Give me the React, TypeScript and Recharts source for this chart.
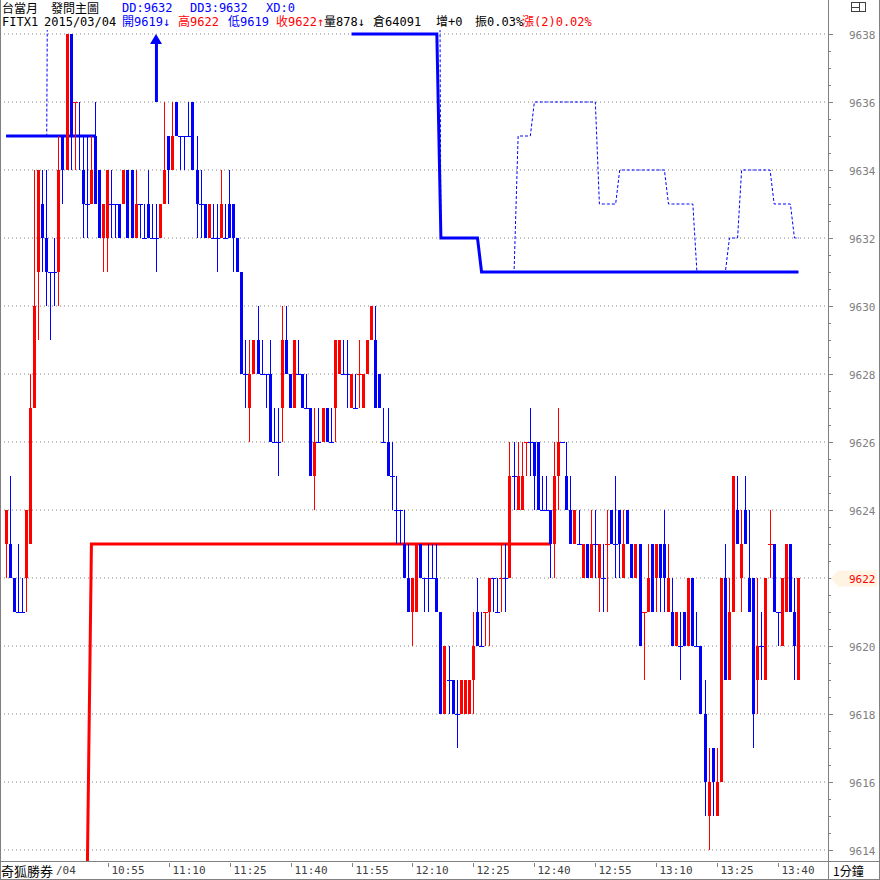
import React from 'react';
import { ComposedChart, XAxis, YAxis, Bar, Line, ReferenceLine, ReferenceDot } from 'recharts';

// ---- data (1-minute bars, 10:30 .. 13:45) ----
const opens = [
  9623,9623,9622,9621,9621,9622,9623,9627,9631,9633,
  9632,9631,9631,9631,9635,9634,9638,9636,9635,9634,
  9633,9633,9635,9634,9632,9632,9633,9633,9633,9633,
  9634,9634,9632,9633,9632,9633,9632,9632,9632,9633,
  9635,9634,9636,9635,9635,9635,9636,9634,9633,9633,
  9632,9632,9632,9632,9632,9633,9633,9632,9631,9628,
  9627,9628,9629,9628,9628,9628,9626,9626,9627,9629,
  9628,9627,9628,9628,9627,9627,9625,9626,9626,9627,
  9626,9627,9628,9628,9628,9627,9627,9628,9627,9628,
  9629,9629,9628,9626,9626,9625,9624,9624,9623,9622,
  9621,9621,9623,9622,9622,9622,9622,9621,9618,9619,
  9619,9618,9618,9618,9618,9619,9621,9620,9621,9621,
  9622,9621,9622,9622,9622,9625,9624,9624,9626,9626,
  9626,9626,9624,9624,9624,9623,9625,9626,9625,9624,
  9623,9623,9622,9623,9622,9623,9622,9622,9623,9624,
  9623,9624,9622,9624,9623,9622,9623,9621,9621,9623,
  9622,9623,9623,9621,9621,9620,9620,9621,9620,9622,
  9620,9620,9618,9615,9617,9615,9616,9622,9619,9621,
  9624,9622,9624,9622,9622,9619,9620,9619,9623,9623,
  9621,9620,9621,9623,9621,9619,
];
const highs = [
  9624,9625,9622,9623,9622,9624,9628,9634,9634,9634,
  9634,9631,9632,9635,9635,9638,9638,9636,9636,9635,
  9635,9635,9636,9634,9633,9634,9634,9633,9633,9634,
  9634,9634,9634,9633,9633,9634,9633,9633,9633,9636,
  9635,9636,9636,9635,9635,9636,9636,9635,9634,9633,
  9633,9633,9633,9634,9633,9634,9633,9632,9631,9629,
  9629,9629,9630,9629,9628,9629,9627,9627,9630,9630,
  9628,9629,9629,9628,9628,9627,9627,9627,9627,9627,
  9627,9629,9629,9629,9629,9628,9628,9629,9628,9629,
  9630,9630,9628,9627,9627,9626,9625,9624,9624,9623,
  9622,9623,9623,9622,9623,9623,9623,9621,9620,9620,
  9619,9619,9619,9619,9619,9621,9622,9621,9621,9622,
  9622,9622,9623,9623,9626,9626,9626,9626,9626,9627,
  9626,9626,9625,9625,9624,9626,9627,9626,9626,9625,
  9624,9624,9623,9623,9624,9624,9623,9623,9624,9624,
  9625,9624,9624,9624,9623,9623,9623,9621,9623,9623,
  9623,9623,9624,9623,9622,9621,9621,9621,9622,9622,
  9621,9620,9619,9617,9617,9617,9622,9623,9622,9625,
  9625,9624,9625,9624,9622,9622,9621,9622,9624,9623,
  9621,9622,9623,9623,9622,9622,
];
const lows = [
  9622,9622,9621,9621,9621,9621,9623,9627,9629,9631,
  9630,9629,9630,9630,9633,9634,9634,9634,9634,9632,
  9632,9633,9633,9632,9631,9631,9632,9632,9632,9633,
  9632,9632,9632,9632,9632,9632,9632,9631,9632,9633,
  9633,9634,9635,9634,9634,9635,9634,9632,9632,9632,
  9632,9632,9631,9632,9632,9632,9631,9631,9628,9627,
  9626,9628,9628,9628,9627,9626,9626,9625,9626,9628,
  9627,9627,9628,9627,9627,9625,9624,9626,9626,9626,
  9626,9626,9628,9628,9627,9627,9627,9627,9627,9628,
  9629,9627,9627,9626,9625,9624,9623,9623,9622,9621,
  9620,9621,9622,9621,9621,9622,9621,9618,9618,9618,
  9618,9617,9618,9618,9618,9618,9620,9620,9620,9620,
  9621,9621,9621,9621,9622,9624,9624,9624,9625,9625,
  9624,9624,9624,9624,9622,9622,9624,9626,9624,9623,
  9623,9623,9622,9622,9622,9622,9621,9621,9621,9623,
  9622,9622,9622,9623,9622,9622,9620,9619,9621,9621,
  9621,9621,9621,9621,9620,9620,9619,9620,9620,9620,
  9620,9618,9615,9614,9615,9615,9616,9619,9619,9621,
  9623,9621,9623,9621,9617,9618,9619,9619,9622,9621,
  9620,9620,9621,9621,9619,9619,
];
const closes = [
  9624,9622,9621,9621,9621,9624,9627,9630,9634,9632,
  9631,9631,9631,9634,9634,9638,9635,9636,9635,9633,
  9633,9634,9633,9632,9633,9634,9633,9633,9632,9634,
  9632,9632,9633,9633,9632,9632,9632,9632,9633,9634,
  9634,9635,9635,9635,9635,9635,9634,9633,9633,9632,
  9633,9632,9632,9633,9632,9632,9632,9631,9628,9628,
  9628,9629,9628,9628,9628,9626,9626,9626,9629,9628,
  9627,9629,9628,9627,9627,9625,9626,9626,9627,9626,
  9626,9629,9629,9628,9628,9628,9627,9628,9628,9629,
  9630,9627,9627,9626,9625,9625,9624,9624,9622,9621,
  9622,9623,9622,9622,9622,9622,9621,9618,9620,9619,
  9618,9618,9619,9619,9619,9620,9620,9620,9621,9622,
  9622,9621,9622,9622,9625,9625,9625,9625,9626,9626,
  9625,9624,9624,9624,9623,9625,9626,9626,9624,9623,
  9624,9623,9623,9622,9623,9623,9623,9622,9623,9623,
  9623,9623,9623,9623,9622,9623,9620,9621,9622,9621,
  9623,9622,9622,9622,9620,9621,9620,9620,9622,9620,
  9620,9618,9616,9616,9616,9616,9622,9619,9621,9625,
  9623,9623,9623,9621,9618,9620,9620,9622,9623,9621,
  9621,9622,9623,9621,9620,9622,
];

// step lines as [value, number of bars]; null = not drawn, 9660 = above the visible range
const ddRuns = [[9635, 23], [null, 62], [9638, 22], [9632, 10], [9631, 79]];
const dd3Runs = [
  [9635, 11], [9660, 96], [9632, 10], [9631, 9], [9635, 4], [9636, 16], [9633, 5],
  [9634, 12], [9633, 7], [9631, 8], [9632, 3], [9634, 8], [9633, 5], [9632, 2],
];
const redRuns = [[null, 20], [9613.5, 1], [9623, 114], [null, 61]];

const timeTicks = ['10:55', '11:10', '11:25', '11:40', '11:55', '12:10', '12:25', '12:40', '12:55', '13:10', '13:25', '13:40'];
const priceTicks = [9614, 9616, 9618, 9620, 9622, 9624, 9626, 9628, 9630, 9632, 9634, 9636, 9638];
const arrowTime = '11:07';
const arrowFrom = 9636;
const arrowTo = 9638;

const startMinute = 10 * 60 + 30;
const padFront = 1;
const padBack = 7;
const Y_MIN = 9638 - 827 / 34;
const Y_MAX = 9638 + 4 / 34;

const RED = '#FF0000';
const BLUE = '#0000FF';
const GRAY = '#808080';
const MONO = '"DejaVu Sans Mono", "Noto Sans CJK TC", monospace';
const CJK = '"Noto Sans CJK TC", "Noto Sans CJK SC", sans-serif';

const expand = (runs: any[]) => {
  const out: any[] = [];
  runs.forEach(([v, n]) => { for (let k = 0; k < n; k++) out.push(v); });
  return out;
};
const ddVals = expand(ddRuns);
const dd3Vals = expand(dd3Runs);
const redVals = expand(redRuns);

const fmt = (m: number) => `${Math.floor(m / 60)}:${String(m % 60).padStart(2, '0')}`;

const rows: any[] = [];
for (let k = 0; k < padFront; k++) rows.push({ t: `pre${k}` });
opens.forEach((o, i) => {
  const c = closes[i];
  const prev = i > 0 ? closes[i - 1] : c;
  const col = c > o ? RED : c < o ? BLUE : c > prev ? RED : BLUE;
  rows.push({
    t: fmt(startMinute + i),
    o, h: highs[i], l: lows[i], c, col,
    range: [lows[i], highs[i]],
    dd: ddVals[i], dd3: dd3Vals[i], red: redVals[i],
  });
});
for (let k = 0; k < padBack; k++) rows.push({ t: `post${k}` });

const lastClose = closes[closes.length - 1];
const minorStep = 0.5;
const yTicks: number[] = [];
priceTicks.forEach((v, idx) => {
  yTicks.push(v);
  if (idx < priceTicks.length - 1) {
    for (let s = minorStep; s < 2; s += minorStep) yTicks.push(v + s);
  }
});

const Candle = (props: any) => {
  const { x, y, width, height, payload } = props;
  if (!payload || payload.o == null) return null;
  const { o, h, l, c } = payload;
  const col = payload.col || BLUE;
  let top = y;
  let hh = height || 0;
  if (hh < 0) { top = y + hh; hh = -hh; }
  const cx = Math.floor(x + width / 2);
  const span = h - l;
  const k = span > 0 ? hh / span : 0;
  const yOf = (v: number) => Math.round(top + (h - v) * k);
  const yH = yOf(h);
  const yL = yOf(l);
  const bTop = yOf(Math.max(o, c));
  const bBot = yOf(Math.min(o, c));
  return (
    <g shapeRendering="crispEdges">
      {yL > yH && <rect x={cx} y={yH} width={1} height={yL - yH} fill={col} />}
      {o !== c
        ? <rect x={cx - 1} y={bTop} width={3} height={Math.max(1, bBot - bTop)} fill={col} />
        : <rect x={cx - 2} y={bTop} width={5} height={1} fill={col} />}
    </g>
  );
};

const PriceTick = (props: any) => {
  const { x, y, payload } = props;
  const v = payload.value;
  const major = Math.abs(v - Math.round(v / 2) * 2) < 1e-6;
  const yy = Math.round(y) + 0.5;
  const isLast = major && Math.abs(v - lastClose) < 1e-6;
  return (
    <g>
      <line x1={x} x2={x + (major ? 4 : 2)} y1={yy} y2={yy} stroke={GRAY} strokeWidth={1} />
      {isLast && (
        <path d={`M${x + 2},${yy} L${x + 9},${yy - 8} L${x + 48},${yy - 8} L${x + 48},${yy + 8} L${x + 9},${yy + 8} Z`} fill="#FFF4E4" />
      )}
      {major && (
        <text x={x + 20} y={yy + 4} fontFamily={MONO} fontSize={11} fill={isLast ? RED : GRAY}>{v}</text>
      )}
    </g>
  );
};

const TimeTick = (props: any) => {
  const { x, y, payload } = props;
  const xx = Math.round(x) + 0.5;
  return (
    <g>
      <line x1={xx} x2={xx} y1={y + 2} y2={y + 6} stroke={GRAY} strokeWidth={1} />
      <text x={xx + 3} y={y + 13} fontFamily={MONO} fontSize={11} fill="#404040">{payload.value}</text>
    </g>
  );
};

const ArrowHead = (props: any) => {
  const { cx, cy } = props;
  const x = Math.round(cx);
  return <path d={`M${x},${cy} L${x - 6},${cy + 10} L${x + 6},${cy + 10} Z`} fill={BLUE} />;
};

const line1 = [
  { x: 2, text: '台當月', c: '#000', f: CJK },
  { x: 51, text: '發問主圖', c: '#000', f: CJK },
  { x: 122, text: 'DD:9632', c: BLUE, f: MONO },
  { x: 190, text: 'DD3:9632', c: BLUE, f: MONO },
  { x: 266, text: 'XD:0', c: BLUE, f: MONO },
];
const line2 = [
  { x: 2, text: 'FITX1', c: '#000' },
  { x: 44, text: '2015/03/04', c: '#000' },
  { x: 122, text: '開9619↓', c: BLUE },
  { x: 178, text: '高9622', c: RED },
  { x: 228, text: '低9619', c: BLUE },
  { x: 276, text: '收9622↑', c: RED },
  { x: 324, text: '量878↓', c: '#000' },
  { x: 373, text: '倉64091', c: '#000' },
  { x: 436, text: '增+0', c: '#000' },
  { x: 475, text: '振0.03%', c: '#000' },
  { x: 522, text: '漲(2)0.02%', c: RED },
];

export default function App() {
  return (
    <div style={{ position: 'absolute', left: 0, top: 0, width: 880, height: 880, background: '#fff', overflow: 'hidden' }}>
      <ComposedChart
        width={880}
        height={880}
        data={rows}
        margin={{ top: 30, right: 0, bottom: 0, left: 0 }}
        barCategoryGap={0}
        barGap={0}
      >
        <XAxis
          xAxisId="x"
          dataKey="t"
          ticks={timeTicks}
          interval={0}
          height={19}
          axisLine={false}
          tickLine={false}
          tickSize={0}
          tickMargin={0}
          tick={TimeTick}
        />
        <YAxis
          yAxisId="y"
          orientation="right"
          width={51}
          type="number"
          domain={[Y_MIN, Y_MAX]}
          allowDataOverflow
          ticks={yTicks}
          interval={0}
          axisLine={false}
          tickLine={false}
          tickSize={0}
          tickMargin={0}
          tick={PriceTick}
        />
        {priceTicks.map((v) => (
          <ReferenceLine key={v} xAxisId="x" yAxisId="y" y={v} stroke={GRAY} strokeDasharray="1 3" strokeWidth={1} zIndex={-100} />
        ))}
        <Line xAxisId="x" yAxisId="y" type="linear" dataKey="dd3" stroke={BLUE} strokeWidth={1} strokeDasharray="3 2" dot={false} activeDot={false} isAnimationActive={false} connectNulls={false} />
        <Line xAxisId="x" yAxisId="y" type="linear" dataKey="dd" stroke={BLUE} strokeWidth={3} dot={false} activeDot={false} isAnimationActive={false} connectNulls={false} />
        <Line xAxisId="x" yAxisId="y" type="linear" dataKey="red" stroke={RED} strokeWidth={3} dot={false} activeDot={false} isAnimationActive={false} connectNulls={false} />
        <Bar xAxisId="x" yAxisId="y" dataKey="range" shape={Candle} isAnimationActive={false} zIndex={500} />
        <ReferenceLine
          xAxisId="x"
          yAxisId="y"
          segment={[{ x: arrowTime, y: arrowFrom }, { x: arrowTime, y: arrowTo - 0.2 }]}
          stroke={BLUE}
          strokeWidth={3}
          zIndex={600}
        />
        <ReferenceDot xAxisId="x" yAxisId="y" x={arrowTime} y={arrowTo} r={6} shape={ArrowHead} zIndex={600} />
      </ComposedChart>

      <svg width={880} height={880} style={{ position: 'absolute', left: 0, top: 0, pointerEvents: 'none' }}>
        <g shapeRendering="crispEdges" stroke={GRAY} strokeWidth={1}>
          <line x1={0.5} y1={0} x2={0.5} y2={880} />
          <line x1={879.5} y1={0} x2={879.5} y2={880} />
          <line x1={0} y1={879.5} x2={880} y2={879.5} />
          <line x1={0} y1={861.5} x2={880} y2={861.5} />
          <line x1={828.5} y1={0} x2={828.5} y2={880} />
        </g>
        <g shapeRendering="crispEdges" stroke="#404040" strokeWidth={1} fill="none">
          <rect x={851.5} y={2.5} width={8} height={9} />
          <line x1={851.5} y1={7} x2={859.5} y2={7} />
          <rect x={859.5} y={2.5} width={6} height={9} />
        </g>
      </svg>

      <div style={{ position: 'absolute', left: 0, top: 0, width: 880, height: 30, pointerEvents: 'none' }}>
        {line1.map((s, i) => (
          <span key={i} style={{ position: 'absolute', left: s.x, top: 1, fontFamily: s.f, fontSize: 12, lineHeight: '14px', color: s.c, whiteSpace: 'pre' }}>{s.text}</span>
        ))}
        {line2.map((s, i) => (
          <span key={i} style={{ position: 'absolute', left: s.x, top: 16, fontFamily: MONO, fontSize: 12, lineHeight: '13px', color: s.c, whiteSpace: 'pre' }}>{s.text}</span>
        ))}
      </div>
      <div style={{ position: 'absolute', left: 1, top: 863, fontFamily: CJK, fontSize: 13, lineHeight: '15px', color: '#000', whiteSpace: 'pre' }}>奇狐勝券</div>
      <div style={{ position: 'absolute', left: 56, top: 863, fontFamily: MONO, fontSize: 11, lineHeight: '15px', color: '#404040', whiteSpace: 'pre' }}>/04</div>
      <div style={{ position: 'absolute', left: 833, top: 863, fontFamily: CJK, fontSize: 12, lineHeight: '15px', color: '#000', whiteSpace: 'pre' }}>1分鐘</div>
    </div>
  );
}
